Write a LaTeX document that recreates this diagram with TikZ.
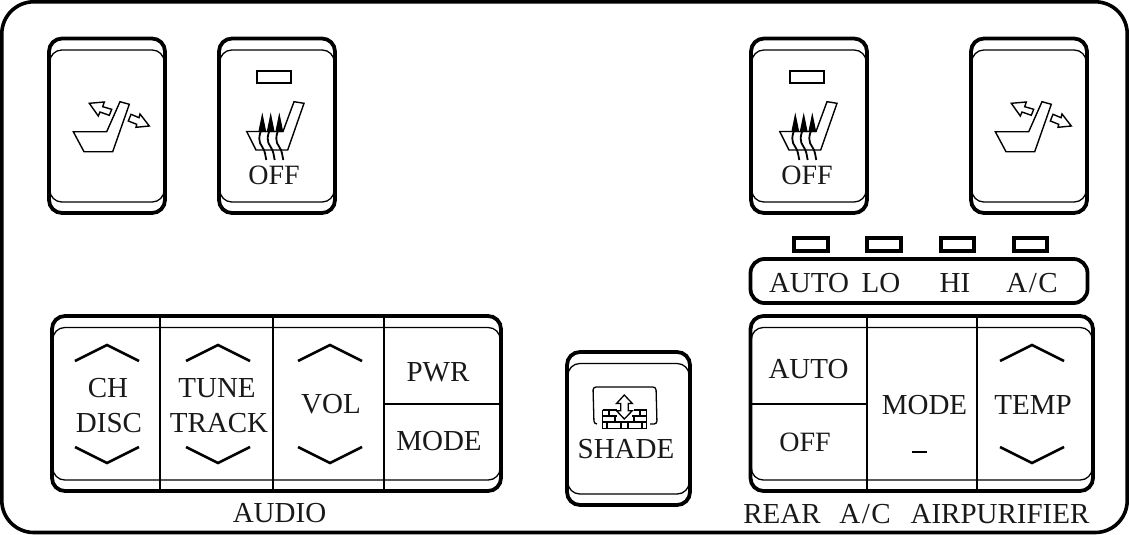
\documentclass[tikz,border=0pt]{standalone}
\usepackage{fontspec}
\setmainfont{Liberation Serif}
\tikzset{
  x=1pt,y=-1pt,
  outer/.style={line width=3.8pt,rounded corners=13pt},
  innerline/.style={line width=1.3pt,rounded corners=12pt},
  thinline/.style={line width=1.4pt},
  iconline/.style={line width=1.4pt,line join=miter},
  chev/.style={line width=2.6pt,line join=miter},
  led/.style={line width=1.3pt},
  ledthick/.style={line width=3.2pt},
  lab/.style={anchor=base,inner sep=0pt,font=\fontsize{29}{29}\selectfont,text=black!90},
  labs/.style={lab,font=\fontsize{28}{28}\selectfont},
}
% button frame: x0,y0,x1,y1
\newcommand{\btnframe}[4]{%
  \draw[outer] (#1,#2) rectangle (#3,#4);
  \draw[innerline] (#1+0.8,#2+11.5) rectangle (#3-0.8,#4-11);
}
\newcommand{\chevup}[3]{\draw[chev] (#1-32,#2+16) -- (#1,#2) -- (#1+32,#2+16);}
\newcommand{\chevdn}[3]{\draw[chev] (#1-32,#2-16) -- (#1,#2) -- (#1+32,#2-16);}
\newcommand{\seaticon}{%
  \draw[iconline] (73.3,131.7) -- (106.7,131.7) -- (120,101.7) -- (129.3,104.3) -- (112.7,151.7) -- (84,151.7) -- cycle;
  \draw[iconline] (89.3,103.3) -- (104.3,102) -- (102.7,106.7) -- (111.7,109.3) -- (109.3,115.3) -- (100,112) -- (98.3,116) -- cycle;
  \draw[iconline] (131,114.3) -- (128.3,121) -- (136.7,124.3) -- (136,127.3) -- (149.3,126) -- (140,114) -- (139,117.7) -- cycle;
}
\newcommand{\heaticon}{%
  \draw[led] (257,71) rectangle (291,83);
  \draw[iconline] (246.7,131.5) -- (283,131.5) -- (294,101.7) -- (304,103.3) -- (287.7,150) -- (256,150) -- cycle;
  \foreach \hx in {262.3,270.7,279.3}{
    \fill (\hx,112.5) -- (\hx+4,132) -- (\hx-4,132) -- cycle;
    \draw[line width=1.8pt] (\hx,128) .. controls (\hx-4,136) and (\hx-4,142) .. (\hx,147) .. controls (\hx+3,151) and (\hx+3,156) .. (\hx+4,160);
  }
}
\begin{document}
\begin{tikzpicture}
\useasboundingbox (0,0) rectangle (1129,535);
\fill[white] (0,0) rectangle (1129,535);
\draw[line width=3.6pt,rounded corners=32pt] (1.8,1.8) rectangle (1127.2,532.5);

% top buttons
\btnframe{49}{38.5}{165}{213}
\seaticon
\btnframe{219}{38.5}{335}{213}
\heaticon
\node[labs] (off1) at (274,184) {OFF};
\btnframe{751}{38.5}{867}{213}
\begin{scope}[shift={(533,0)}]\heaticon\end{scope}
\node[labs] (off2) at (807,184) {OFF};
\btnframe{971}{38.5}{1087}{213}
\begin{scope}[shift={(922,0)}]\seaticon\end{scope}

% indicators
\foreach \lx/\rx in {794/828,867/901,941/974,1014/1047}
  \draw[ledthick] (\lx,238) rectangle (\rx,251);
\draw[outer,rounded corners=14pt] (750.5,259) rectangle (1087.5,303);
\node[lab] (t1) at (809,292) {AUTO};
\node[lab] (t2) at (881,292) {LO};
\node[lab] (t3) at (955,292) {HI};
\node[lab] (t4) at (1032,292) {A\kern1.5pt/\kern1.5pt C};

% audio panel
\btnframe{52}{316}{501}{491}
\foreach \dx in {160,273,384} \draw[thinline] (\dx,315) -- (\dx,492);
\draw[thinline] (384,404) -- (500,404);
\chevup{107}{345}{}\chevdn{107}{463}{}
\chevup{218}{345}{}\chevdn{218}{463}{}
\chevup{330}{345}{}\chevdn{330}{463}{}
\node[lab] (a1) at (108,397) {CH};
\node[lab] (a2) at (109,432) {DISC};
\node[lab] (a3) at (217,397) {TUNE};
\node[lab] (a4) at (219,432) {TRACK};
\node[lab] (a5) at (331,413) {VOL};
\node[lab] (a6) at (438,381) {PWR};
\node[lab] (a7) at (439,450) {MODE};
\node[lab] (a8) at (279.5,522) {AUDIO};

% shade
\btnframe{567}{352}{690}{505}
\draw[line width=1.3pt,rounded corners=3pt] (597,424) -- (594,424) -- (593,387) -- (656,387) -- (657,424) -- (650,424);
\begin{scope}[line width=1.3pt]
  \draw (602.5,410) -- (602.5,428.5) -- (646.5,428.5) -- (646.5,410);
  \draw (602.5,410) -- (617,410);
  \draw (634,410) -- (646.5,410);
  \draw (602.5,416) -- (622,416) (629,416) -- (646.5,416);
  \draw (602.5,422) -- (646.5,422);
  \draw (609,410) -- (609,416) (615,416) -- (615,422) (607,422) -- (607,428.5) (621,422) -- (621,428.5)
        (640,410) -- (640,416) (634,416) -- (634,422) (642,422) -- (642,428.5) (628,422) -- (628,428.5);
  \fill[white] (617,408) rectangle (632,421);
  \draw[fill=white,line join=miter] (624.3,395) -- (632.3,403.5) -- (628.3,403.5) -- (628.3,410.7) -- (632.3,410.7) -- (624.3,419) -- (616.5,410.7) -- (620.7,410.7) -- (620.7,403.5) -- (616.5,403.5) -- cycle;
\end{scope}
\node[lab] (s1) at (626,458) {SHADE};

% rear A/C panel
\btnframe{750.5}{316}{1093}{491}
\foreach \dx in {867,977} \draw[thinline] (\dx,315) -- (\dx,492);
\draw[thinline] (751,404) -- (867,404);
\chevup{1032}{345}{}\chevdn{1032}{463}{}
\node[lab] (r1) at (808.5,378) {AUTO};
\node[labs] (r2) at (805,451) {OFF};
\node[lab] (r3) at (924.5,414) {MODE};
\node[lab] (r4) at (1033,414) {TEMP};
\draw[line width=1.2pt] (912,452) -- (927,452);
\node[lab] (r5) at (782,523) {REAR};
\node[lab] (r6) at (865,523) {A\kern1.5pt/\kern1.5pt C};
\node[lab] (r7) at (1000,523) {AIRPURIFIER};
\end{tikzpicture}
\end{document}
